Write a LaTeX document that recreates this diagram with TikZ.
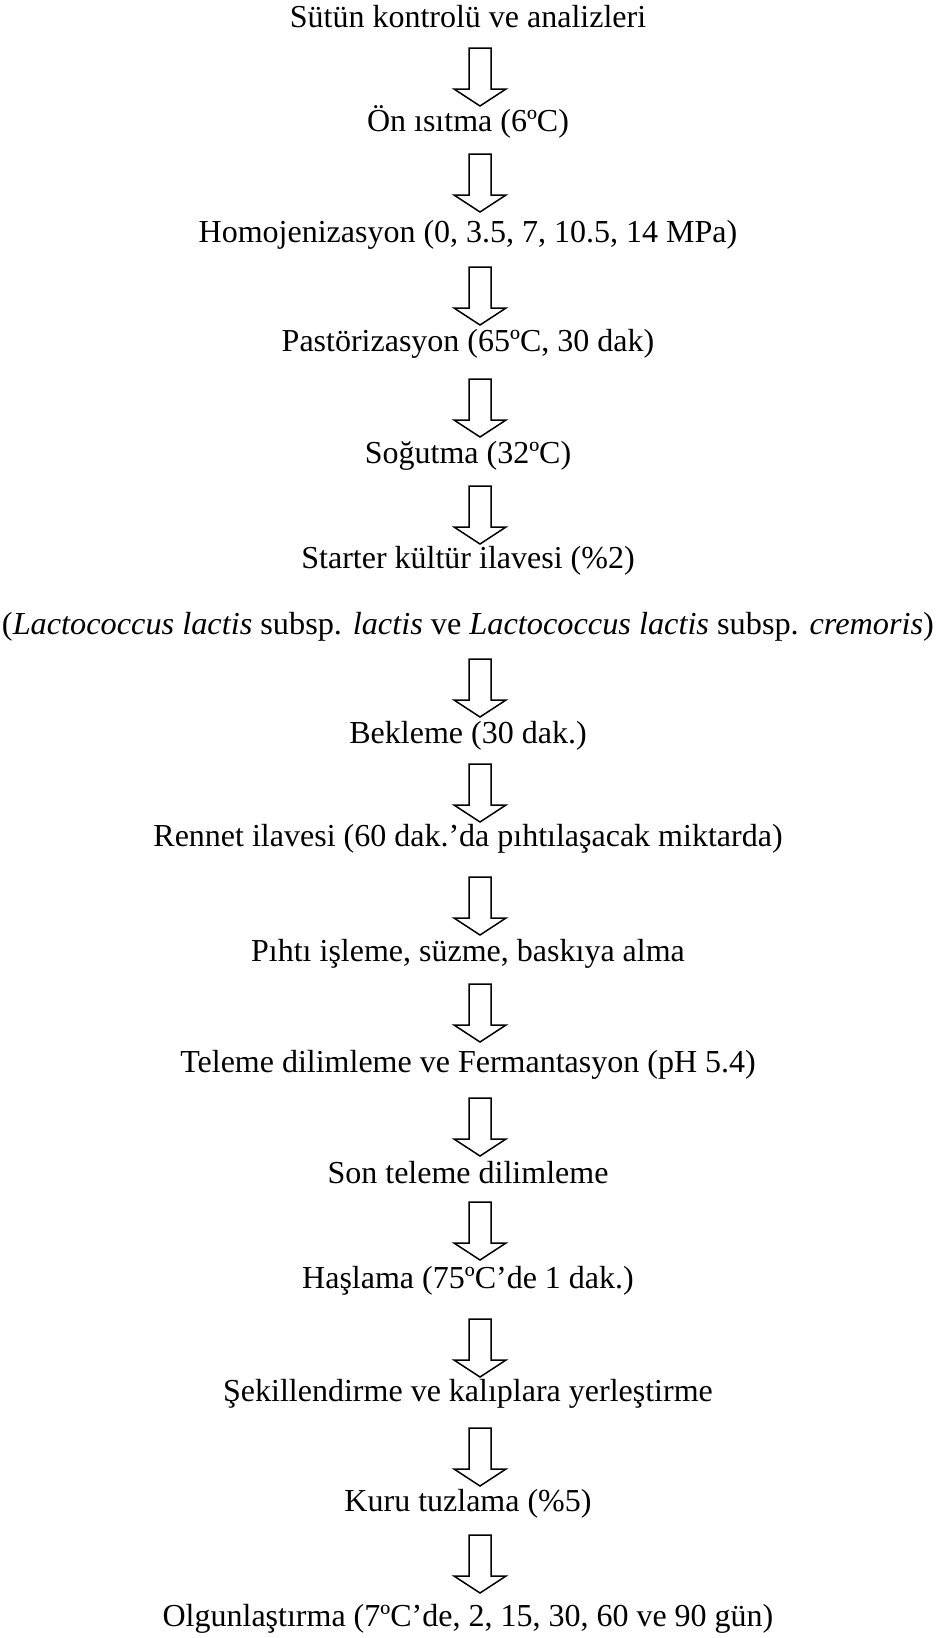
\documentclass[tikz,border=0pt]{standalone}
\usepackage{fontspec}
\setmainfont{Liberation Serif}
\usepackage{graphicx}
\begin{document}
\begin{tikzpicture}[x=0.5pt,y=-0.5pt,
  steptext/.style={anchor=base,inner sep=0pt,font=\fontsize{16}{19}\selectfont},
  barrow/.pic={\draw[line width=0.75pt,fill=white,line join=miter]
     (-11,0) -- (11,0) -- (11,41) -- (26,41) -- (0,58) -- (-26,41) -- (-11,41) -- cycle;}]
\useasboundingbox[fill=white] (0,0) rectangle (936,1638);
\node[steptext] (t1) at (468,27) {Sütün kontrolü ve analizleri};
\node[steptext] (t2) at (468,131) {Ön ısıtma (6ºC)};
\node[steptext] (t3) at (468,242) {Homojenizasyon (0, 3.5, 7, 10.5, 14 MPa)};
\node[steptext] (t4) at (468,351) {Pastörizasyon (65ºC, 30 dak)};
\node[steptext] (t5) at (468,463) {Soğutma (32ºC)};
\node[steptext] (t6) at (468,568) {Starter kültür ilavesi (\%2)};
\node[steptext] (t7) at (468,634) {\resizebox{466pt}{\height}{(\textit{Lactococcus lactis} subsp. \textit{lactis} ve \textit{Lactococcus lactis} subsp. \textit{cremoris})}};
\node[steptext] (t8) at (468,743) {Bekleme (30 dak.)};
\node[steptext] (t9) at (468,846) {Rennet ilavesi (60 dak.’da pıhtılaşacak miktarda)};
\node[steptext] (t10) at (468,961) {Pıhtı işleme, süzme, baskıya alma};
\node[steptext] (t11) at (468,1072) {Teleme dilimleme ve Fermantasyon (pH 5.4)};
\node[steptext] (t12) at (468,1183) {Son teleme dilimleme};
\node[steptext] (t13) at (468,1288) {Haşlama (75ºC’de 1 dak.)};
\node[steptext] (t14) at (468,1401) {Şekillendirme ve kalıplara yerleştirme};
\node[steptext] (t15) at (468,1511) {Kuru tuzlama (\%5)};
\node[steptext] (t16) at (468,1626) {Olgunlaştırma (7ºC’de, 2, 15, 30, 60 ve 90 gün)};
\coordinate (a1) at (480,48);
\coordinate (a2) at (480,154);
\coordinate (a3) at (480,267);
\coordinate (a4) at (480,379);
\coordinate (a5) at (480,486);
\coordinate (a6) at (480,659);
\coordinate (a7) at (480,764);
\coordinate (a8) at (480,877);
\coordinate (a9) at (480,984);
\coordinate (a10) at (480,1098);
\coordinate (a11) at (480,1202);
\coordinate (a12) at (480,1319);
\coordinate (a13) at (480,1428);
\coordinate (a14) at (480,1535);
\foreach \a in {a1,a2,a3,a4,a5,a6,a7,a8,a9,a10,a11,a12,a13,a14}
  \pic at (\a) {barrow};
\end{tikzpicture}
\end{document}
